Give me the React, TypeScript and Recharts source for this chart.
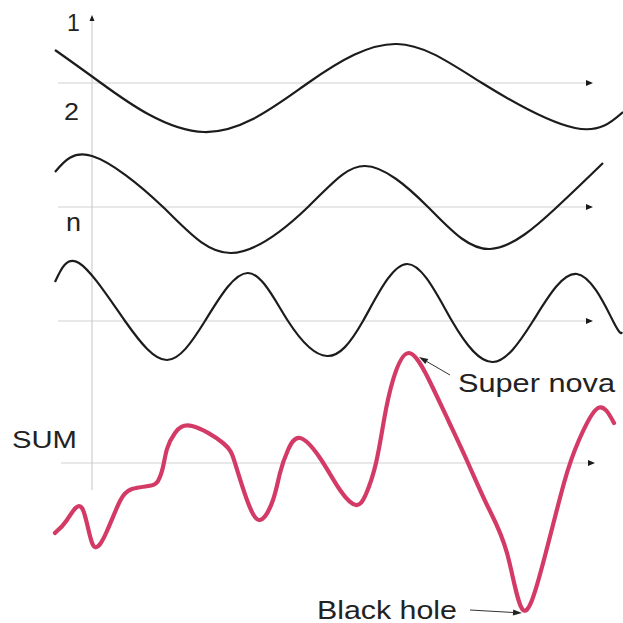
import React from 'react';
import { ComposedChart, Line, XAxis, YAxis, ReferenceLine, ReferenceDot } from 'recharts';

// x: time units (vertical axis at 0); y: wave units, relative to each wave's own axis
const wave1T = [-0.37, 0.09, 1.12, 2.16, 3.05, 3.9, 4.83, 5.31];
const wave1V = [0.825, 0, -1.225, 0, 0.975, 0, -1.125, -0.725];

const wave2T = [-0.37, 0, 0.71, 1.39, 2.16, 2.73, 3.36, 3.98, 4.65, 5.11];
const wave2V = [0.875, 1.275, 0, -1.15, 0, 1.025, 0, -1.05, 0, 1.1];

const wave3T = [-0.37, -0.13, 0.33, 0.75, 1.13, 1.56, 1.96, 2.35, 2.71, 3.15, 3.6, 4.01, 4.41, 4.85, 5.21, 5.3];
const wave3V = [0.975, 1.45, 0, -0.975, 0, 1.2, 0, -0.875, 0, 1.425, 0, -1.025, 0, 1.175, 0, -0.275];

const sumT = [-0.37, -0.25, -0.1, 0.01, 0.15, 0.28, 0.4, 0.58, 0.66, 0.71, 0.75, 0.83, 1.0, 1.31, 1.43, 1.55, 1.68, 1.81, 1.88, 1.96, 2.08, 2.28, 2.48, 2.64, 2.74, 2.84, 2.92, 3.01, 3.17, 3.38, 3.57, 3.76, 3.95, 4.15, 4.31, 4.5, 4.72, 4.87, 5.06, 5.22];
const sumV = [-1.75, -1.425, -1.125, -2.05, -1.7, -0.95, -0.65, -0.57, -0.45, -0.1, 0.35, 0.75, 0.925, 0.5, 0, -0.925, -1.425, -0.925, -0.25, 0.325, 0.625, 0.125, -0.675, -1.05, -0.775, 0, 1.075, 2.075, 2.75, 2.025, 1.025, 0, -1.05, -2.25, -3.675, -2.6, -0.5, 0.575, 1.375, 1.0];

// level of each wave's axis on the shared vertical scale
const axisLevels = [13.5, 10.4, 7.55, 4.0];
const axisStartT = [-0.34, -0.34, -0.34, -0.31];
const axisEndT = [5.01, 5.01, 5.01, 5.03];
const verticalAxisY = [3.325, 15.2];

const waveLabels = ['1', '2', 'n', 'SUM'];
const waveLabelT = [-0.25, -0.28, -0.26, -0.8];
const waveLabelY = [14.8, 12.575, 9.8, 4.375];

const noteTexts = ['Super nova', 'Black hole'];
const noteTextT = [3.66, 2.25];
const noteTextY = [5.775, 0.1];
const noteArrowFrom = [[3.58, 6.2], [3.78, 0.325]];
const noteArrowTo = [[3.27, 6.65], [4.3, 0.25]];

const X_DOMAIN: [number, number] = [-0.92, 5.31];
const Y_DOMAIN: [number, number] = [0, 15.575];

const build = (ts: number[], vs: number[], level: number) => ts.map((t, i) => ({ t, y: vs[i] + level }));
const wave1Data = build(wave1T, wave1V, axisLevels[0]);
const wave2Data = build(wave2T, wave2V, axisLevels[1]);
const wave3Data = build(wave3T, wave3V, axisLevels[2]);
const sumData = build(sumT, sumV, axisLevels[3]);

const FONT = '"Liberation Sans", Arial, Helvetica, sans-serif';

const arrowShape = (lineColor: string, headColor: string, len: number, half: number, width: number, head: boolean) => (p: any) => {
  const { x1, y1, x2, y2 } = p;
  if ([x1, y1, x2, y2].some((v) => typeof v !== 'number' || isNaN(v))) return <g />;
  const a = Math.atan2(y2 - y1, x2 - x1);
  const bx = x2 - Math.cos(a) * len;
  const by = y2 - Math.sin(a) * len;
  const px = -Math.sin(a) * half;
  const py = Math.cos(a) * half;
  return (
    <g>
      <line x1={x1} y1={y1} x2={head ? bx : x2} y2={head ? by : y2} stroke={lineColor} strokeWidth={width} />
      {head && <path d={`M${x2},${y2} L${bx + px},${by + py} L${bx - px},${by - py} Z`} fill={headColor} />}
    </g>
  );
};

const textShape = (label: string, size: number, length?: number) => (p: any) => (
  <text
    x={p.cx}
    y={p.cy}
    fontFamily={FONT}
    fontSize={size}
    fill="#222"
    textLength={length}
    lengthAdjust={length ? 'spacingAndGlyphs' : undefined}
  >
    {label}
  </text>
);

const labelSizes = [23, 23, 25, 23];
const labelLengths = [undefined, 15, 15, 65];
const noteSizes = [25, 25];
const noteLengths = [157, 140];

export default function App() {
  return (
    <div style={{ position: 'absolute', left: 0, top: 0, width: 623, height: 623, background: '#fff' }}>
      <ComposedChart width={623} height={623} margin={{ top: 0, right: 0, bottom: 0, left: 0 }}>
        <XAxis type="number" dataKey="t" domain={X_DOMAIN} allowDataOverflow hide />
        <YAxis type="number" dataKey="y" domain={Y_DOMAIN} allowDataOverflow hide />

        {axisLevels.map((lv, i) => (
          <ReferenceLine
            key={'ax' + i}
            ifOverflow="visible"
            segment={[{ x: axisStartT[i], y: lv }, { x: axisEndT[i], y: lv }]}
            shape={arrowShape('#d2d2d2', '#1a1a1a', 7, 3, 1.2, true)}
          />
        ))}
        <ReferenceLine
          ifOverflow="visible"
          segment={[{ x: 0, y: verticalAxisY[0] }, { x: 0, y: verticalAxisY[1] }]}
          shape={arrowShape('#cfcfcf', '#1a1a1a', 6, 2.5, 1.2, true)}
        />

        <Line data={wave1Data} dataKey="y" type="natural" stroke="#1c1c1c" strokeWidth={2.2} dot={false} activeDot={false} isAnimationActive={false} />
        <Line data={wave2Data} dataKey="y" type="natural" stroke="#1c1c1c" strokeWidth={2.2} dot={false} activeDot={false} isAnimationActive={false} />
        <Line data={wave3Data} dataKey="y" type="natural" stroke="#1c1c1c" strokeWidth={2.2} dot={false} activeDot={false} isAnimationActive={false} />
        <Line data={sumData} dataKey="y" type="natural" stroke="#d43a66" strokeWidth={4.2} strokeLinecap="round" dot={false} activeDot={false} isAnimationActive={false} />

        {noteTexts.map((s, i) => (
          <ReferenceLine
            key={'na' + i}
            ifOverflow="visible"
            segment={[{ x: noteArrowFrom[i][0], y: noteArrowFrom[i][1] }, { x: noteArrowTo[i][0], y: noteArrowTo[i][1] }]}
            shape={arrowShape('#333', '#222', 9, 3, 1, true)}
          />
        ))}

        {waveLabels.map((s, i) => (
          <ReferenceDot key={'wl' + i} ifOverflow="visible" x={waveLabelT[i]} y={waveLabelY[i]} r={0} shape={textShape(s, labelSizes[i], labelLengths[i])} />
        ))}
        {noteTexts.map((s, i) => (
          <ReferenceDot key={'nt' + i} ifOverflow="visible" x={noteTextT[i]} y={noteTextY[i]} r={0} shape={textShape(s, noteSizes[i], noteLengths[i])} />
        ))}
      </ComposedChart>
    </div>
  );
}
